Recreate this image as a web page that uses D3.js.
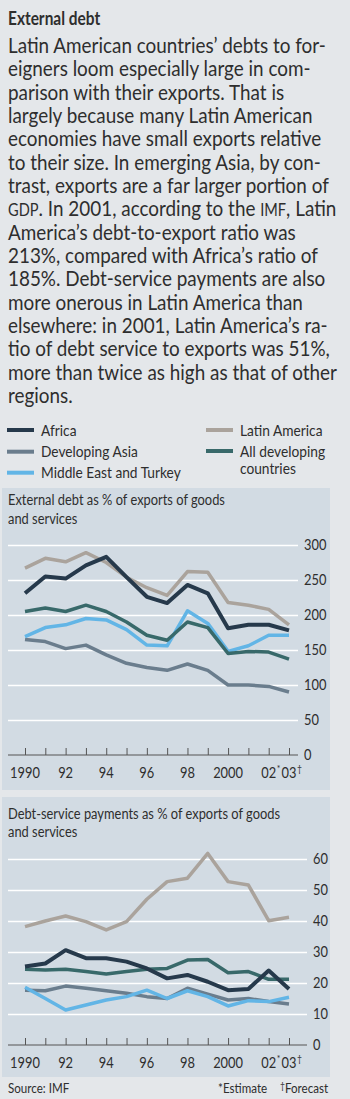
<!DOCTYPE html>
<html>
<head>
<meta charset="utf-8">
<script src="https://cdn.jsdelivr.net/npm/d3@7"></script>
<style>
  body { margin: 0; background: #e4e7ea; }
  svg { display: block; font-family: Lato, "Open Sans", sans-serif; }
</style>
</head>
<body>
<svg id="chart"></svg>
<script>
// Data
const years = [1990, 1991, 1992, 1993, 1994, 1995, 1996, 1997, 1998, 1999, 2000, 2001, 2002, 2003];
const labelYears = [1990, 1992, 1994, 1996, 1998, 2000, 2002, 2003];
const labelText = ["1990", "92", "94", "96", "98", "2000", "02", "03"];
const labelMark = ["", "", "", "", "", "", "*", "†"];
const debtTicks = [0, 50, 100, 150, 200, 250, 300];
const serviceTicks = [0, 10, 20, 30, 40, 50, 60];

const seriesNames = ["Africa", "Developing Asia", "Middle East and Turkey", "Latin America", "All developing countries"];

// external debt, % of exports
const africaDebt  = [231, 255, 252, 271, 283, 254, 226, 217, 243, 231, 181, 186, 186, 178];
const asiaDebt    = [165, 162, 152, 157, 143, 131, 125, 121, 130, 121, 100, 100, 98, 90];
const meDebt      = [169, 182, 186, 195, 193, 179, 157, 156, 206, 188, 148, 156, 171, 171];
const latamDebt   = [267, 281, 276, 289, 275, 254, 239, 228, 262, 261, 218, 214, 208, 186];
const allDevDebt  = [205, 210, 205, 214, 205, 190, 171, 164, 190, 182, 145, 148, 147, 137];

// debt service, % of exports
const africaService = [25.3, 26.3, 30.6, 28, 28, 26.9, 24.7, 21.5, 22.6, 20.4, 17.7, 18.1, 24, 18.1];
const asiaService   = [17.7, 17.5, 19, 18.3, 17.5, 16.7, 15.6, 15, 18.3, 16.4, 14.5, 15, 14, 13.2];
const meService     = [18.6, 15, 11.3, 12.9, 14.5, 15.6, 17.7, 15, 17.5, 15.6, 12.6, 14.3, 14, 15.4];
const latamService  = [38.2, 40, 41.6, 39.8, 37.1, 39.8, 47, 52.7, 53.8, 61.8, 52.7, 51.6, 40.1, 41.2];
const allDevService = [24.4, 24.2, 24.4, 23.7, 22.9, 23.7, 24.4, 24.7, 27.4, 27.6, 23.3, 23.7, 21.2, 21.2];

const bodyLines = [
  "Latin American countries’ debts to for-",
  "eigners loom especially large in com-",
  "parison with their exports. That is",
  "largely because many Latin American",
  "economies have small exports relative",
  "to their size. In emerging Asia, by con-",
  "trast, exports are a far larger portion of",
  "GDP. In 2001, according to the IMF, Latin",
  "America’s debt-to-export ratio was",
  "213%, compared with Africa’s ratio of",
  "185%. Debt-service payments are also",
  "more onerous in Latin America than",
  "elsewhere: in 2001, Latin America’s ra-",
  "tio of debt service to exports was 51%,",
  "more than twice as high as that of other",
  "regions."
];

const colors = {
  "Africa": "#26394b",
  "Developing Asia": "#6a7d8d",
  "Middle East and Turkey": "#62b5e6",
  "Latin America": "#aaa39c",
  "All developing countries": "#38696a"
};
const ink = "#2e2e2e";

const width = 350, height = 1099;
const svg = d3.select("#chart").attr("width", width).attr("height", height);

// panels behind the charts
svg.append("rect").attr("x", 0).attr("y", 0).attr("width", width).attr("height", height).attr("fill", "#e4e7ea");
svg.append("rect").attr("x", 2).attr("y", 488).attr("width", 328).attr("height", 302).attr("fill", "#d2dbe3");
svg.append("rect").attr("x", 2).attr("y", 797).attr("width", 328).attr("height", 280).attr("fill", "#d2dbe3");

// body copy first, so we know how much to squeeze the face
const body = svg.append("g").attr("fill", ink).attr("font-size", 22);
bodyLines.forEach((line, i) => {
  const t = body.append("text").attr("x", 8).attr("y", 53 + i * 23.33);
  line.split(/(GDP|IMF)/).forEach(part => {
    if (!part) return;
    const sp = t.append("tspan").text(part);
    if (part === "GDP" || part === "IMF") sp.attr("font-size", 17);
  });
});
let widest = 0;
body.selectAll("text").each(function () { widest = Math.max(widest, this.getComputedTextLength()); });
const sx = 329 / widest;

// the original face is narrow: scale each text horizontally about its own x
function squeeze(sel) {
  sel.each(function () {
    const x0 = +this.getAttribute("x") || 0;
    d3.select(this).attr("transform", `translate(${x0},0) scale(${sx},1) translate(${-x0},0)`);
  });
}
squeeze(body.selectAll("text"));

svg.append("text")
    .attr("x", 8).attr("y", 25)
    .attr("font-size", 18).attr("font-weight", 700).attr("fill", ink)
    .text("External debt")
    .call(squeeze);

// legend
const legendItems = [
  {name: "Africa", x: 7, y: 430, lines: ["Africa"]},
  {name: "Developing Asia", x: 7, y: 451.7, lines: ["Developing Asia"]},
  {name: "Middle East and Turkey", x: 7, y: 472.7, lines: ["Middle East and Turkey"]},
  {name: "Latin America", x: 206, y: 430, lines: ["Latin America"]},
  {name: "All developing countries", x: 206, y: 451, lines: ["All developing", "countries"]}
];
const legend = svg.append("g").attr("font-size", 16).attr("fill", ink);
legendItems.forEach(d => {
  legend.append("line")
      .attr("x1", d.x).attr("x2", d.x + 27)
      .attr("y1", d.y).attr("y2", d.y)
      .attr("stroke", colors[d.name]).attr("stroke-width", 4);
  d.lines.forEach((l, j) => {
    legend.append("text")
        .attr("x", d.x + 34).attr("y", d.y + j * 17.5)
        .attr("dy", "0.35em")
        .text(l)
        .call(squeeze);
  });
});

const x = d3.scaleLinear().domain([1990, 2003]).range([25, 289]);

function drawChart(opts) {
  const g = svg.append("g");
  const y = d3.scaleLinear().domain([0, opts.max]).range([opts.bottom, opts.top]);

  opts.subtitle.forEach((s, i) => {
    g.append("text")
        .attr("x", 8).attr("y", opts.subY + i * 18.3)
        .attr("dy", "0.35em")
        .attr("font-size", 15).attr("fill", ink)
        .text(s)
        .call(squeeze);
  });

  // white grid lines
  g.append("g")
      .attr("transform", `translate(${opts.gridRight},0)`)
      .call(d3.axisLeft(y).tickValues(opts.ticks.filter(t => t > 0)).tickSize(opts.gridRight - 8).tickFormat(""))
      .call(a => a.select(".domain").remove())
      .selectAll("line").attr("stroke", "#fff").attr("stroke-width", 1.6);

  // value labels on the right
  const yAxis = g.append("g")
      .attr("transform", `translate(${opts.labelX},0)`)
      .call(d3.axisRight(y).tickValues(opts.ticks).tickSize(0).tickPadding(0))
      .attr("font-size", 15).attr("font-family", null);
  yAxis.select(".domain").remove();
  yAxis.selectAll("text").attr("fill", ink).call(squeeze);

  // baseline and year ticks
  g.append("line")
      .attr("x1", 8).attr("x2", opts.gridRight)
      .attr("y1", y(0)).attr("y2", y(0))
      .attr("stroke", "#555").attr("stroke-width", 1.2);
  g.append("g")
      .attr("transform", `translate(0,${y(0)})`)
      .call(d3.axisBottom(x).tickValues(years).tickSize(-7).tickFormat(""))
      .call(a => a.select(".domain").remove())
      .selectAll("line").attr("stroke", "#555");

  labelYears.forEach((yr, i) => {
    const t = g.append("text")
        .attr("x", x(yr)).attr("y", y(0) + 23)
        .attr("text-anchor", "middle")
        .attr("font-size", 15).attr("fill", ink)
        .text(labelText[i])
        .call(squeeze);
    if (labelMark[i]) {
      const half = t.node().getComputedTextLength() * sx / 2;
      g.append("text")
          .attr("x", x(yr) + half + 0.5).attr("y", y(0) + 17)
          .attr("font-size", 10).attr("fill", ink)
          .text(labelMark[i])
          .call(squeeze);
    }
  });

  const line = d3.line().x((d, i) => x(years[i])).y(d => y(d));
  ["Latin America", "Developing Asia", "Middle East and Turkey", "All developing countries", "Africa"].forEach(name => {
    g.append("path")
        .datum(opts.data[name])
        .attr("fill", "none")
        .attr("stroke", colors[name])
        .attr("stroke-width", name === "Africa" ? 4 : 3.5)
        .attr("stroke-linejoin", "round")
        .attr("d", line);
  });
}

drawChart({
  max: 300, top: 545, bottom: 755, gridRight: 298, labelX: 304, subY: 500,
  ticks: debtTicks,
  subtitle: ["External debt as % of exports of goods", "and services"],
  data: {
    "Africa": africaDebt, "Developing Asia": asiaDebt, "Middle East and Turkey": meDebt,
    "Latin America": latamDebt, "All developing countries": allDevDebt
  }
});

drawChart({
  max: 60, top: 859, bottom: 1045, gridRight: 307, labelX: 313, subY: 813.3,
  ticks: serviceTicks,
  subtitle: ["Debt-service payments as % of exports of goods", "and services"],
  data: {
    "Africa": africaService, "Developing Asia": asiaService, "Middle East and Turkey": meService,
    "Latin America": latamService, "All developing countries": allDevService
  }
});

// footnotes
const foot = svg.append("g").attr("font-size", 13.5).attr("fill", ink);
foot.append("text").attr("x", 8).attr("y", 1093).text("Source: IMF").call(squeeze);
foot.append("text").attr("x", 218).attr("y", 1093).text("*Estimate").call(squeeze);
foot.append("text").attr("x", 280).attr("y", 1089).attr("font-size", 10).text("†").call(squeeze);
foot.append("text").attr("x", 285).attr("y", 1093).text("Forecast").call(squeeze);
</script>
</body>
</html>
